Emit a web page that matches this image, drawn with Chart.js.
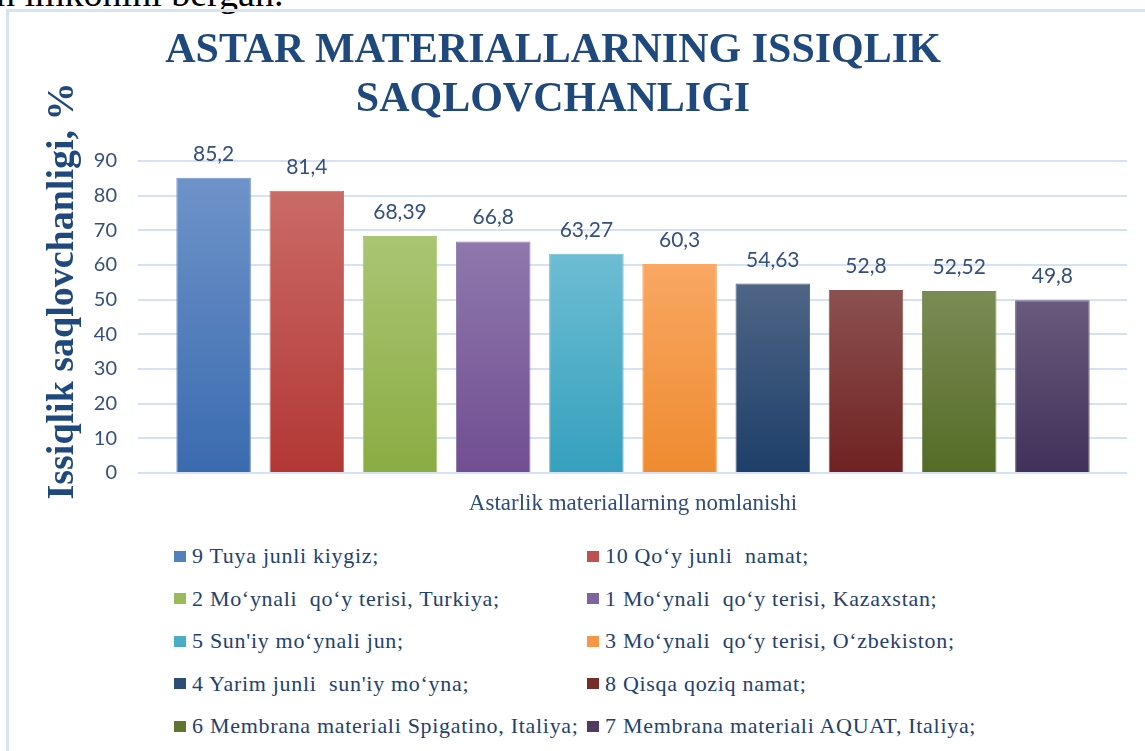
<!DOCTYPE html>
<html>
<head>
<meta charset="utf-8">
<title>Astar materiallarning issiqlik saqlovchanligi</title>
<script src="https://cdn.jsdelivr.net/npm/chart.js@4.4.1/dist/chart.umd.min.js"></script>
<style>
    body {
        margin: 0;
        width: 1145px;
        height: 751px;
        overflow: hidden;
        background: #fff;
        position: relative;
    }
    #pageText {
        position: absolute;
        left: -4px;
        top: -26px;
        font: 38px/38px "Liberation Serif", serif;
        color: #000;
        white-space: nowrap;
    }
    #frame {
        position: absolute;
        left: 6px;
        top: 9px;
        width: 1200px;
        height: 800px;
        border: 3px solid #D6E3F3;
    }
    #chart {
        position: absolute;
        left: -21px;
        top: 0;
    }
    #legend {
        position: absolute;
        left: 174px;
        top: 535px;
        display: grid;
        grid-template-columns: 413px auto;
        grid-auto-rows: 42.5px;
        font: 22px "Liberation Serif", serif;
        letter-spacing: 0.7px;
        color: #23416E;
    }
    #legend .item {
        display: flex;
        align-items: center;
        white-space: pre;
    }
    #legend .box {
        width: 12px;
        height: 11px;
        margin-right: 6px;
        flex: none;
    }
</style>
</head>
<body>
<div id="pageText">n imkonini bergan.</div>
<div id="frame"></div>
<canvas id="chart" width="1148" height="523"></canvas>
<div id="legend"></div>
<script>
// Data
const materials = [
    '9 Tuya junli kiygiz;',
    '10 Qo‘y junli  namat;',
    '2 Mo‘ynali  qo‘y terisi, Turkiya;',
    '1 Mo‘ynali  qo‘y terisi, Kazaxstan;',
    '5 Sun\'iy mo‘ynali jun;',
    '3 Mo‘ynali  qo‘y terisi, O‘zbekiston;',
    '4 Yarim junli  sun\'iy mo‘yna;',
    '8 Qisqa qoziq namat;',
    '6 Membrana materiali Spigatino, Italiya;',
    '7 Membrana materiali AQUAT, Italiya;'
];
const warmth = [85.2, 81.4, 68.39, 66.8, 63.27, 60.3, 54.63, 52.8, 52.52, 49.8];
const yTickValues = [0, 10, 20, 30, 40, 50, 60, 70, 80, 90];

const chartTitle = ['ASTAR MATERIALLARNING ISSIQLIK', 'SAQLOVCHANLIGI'];
const yTitle = 'Issiqlik saqlovchanligi, %';
const xTitle = 'Astarlik materiallarning nomlanishi';

// Excel-like colours: legend swatch, gradient top and bottom
const swatchColors = ['#4F81BD', '#C0504D', '#9BBB59', '#8064A2', '#4BACC6', '#F79646', '#2C4D75', '#772C2A', '#5F7530', '#4D3B62'];
const topColors = ['#6E93C9', '#CA6B68', '#AAC573', '#8F78AC', '#6DBDD3', '#F9A763', '#4E6586', '#8B5150', '#7A8C55', '#685B7C'];
const bottomColors = ['#3A6BAF', '#B23734', '#8AAC43', '#714E92', '#35A0BD', '#EE8B2F', '#1E3F69', '#6F2221', '#546C26', '#41305A'];

const gridColor = '#D6E2F3';
const darkBlue = '#1F497D';
const tickBlue = '#34507E';

Chart.defaults.font.family = 'Lato';

function barGradient(context) {
    const chart = context.chart;
    const i = context.dataIndex;
    const yScale = chart.scales.y;
    if (!chart.chartArea || !yScale || i === undefined) {
        return swatchColors[i] || swatchColors[0];
    }
    const value = context.parsed ? context.parsed.y : warmth[i];
    const top = yScale.getPixelForValue(value);
    const bottom = yScale.getPixelForValue(0);
    const g = chart.ctx.createLinearGradient(0, top, 0, bottom);
    g.addColorStop(0, topColors[i]);
    g.addColorStop(1, bottomColors[i]);
    return g;
}

// value labels above the bars (decimal comma like the original)
const valueLabels = {
    id: 'valueLabels',
    afterDatasetsDraw(chart) {
        const ctx = chart.ctx;
        const meta = chart.getDatasetMeta(0);
        ctx.save();
        ctx.font = '21px Lato';
        ctx.fillStyle = tickBlue;
        ctx.textAlign = 'center';
        ctx.textBaseline = 'alphabetic';
        meta.data.forEach((bar, i) => {
            ctx.fillText(String(warmth[i]).replace('.', ','), bar.x, bar.y - 17);
        });
        ctx.restore();
    }
};

// rotated y axis title, sits a bit higher than the axis centre
const sideTitle = {
    id: 'sideTitle',
    afterDraw(chart) {
        const { ctx, chartArea } = chart;
        ctx.save();
        ctx.translate(chartArea.left - 104, (chartArea.top + chartArea.bottom) / 2 - 26);
        ctx.rotate(-Math.PI / 2);
        ctx.font = 'bold 38px "Liberation Serif"';
        ctx.fillStyle = darkBlue;
        ctx.textAlign = 'center';
        ctx.textBaseline = 'middle';
        ctx.fillText(yTitle, 0, 0);
        ctx.restore();
    }
};

const chart = new Chart(document.getElementById('chart').getContext('2d'), {
    type: 'bar',
    data: {
        labels: materials,
        datasets: [{
            data: warmth,
            backgroundColor: barGradient,
            borderColor: topColors,
            borderWidth: 1,
            categoryPercentage: 1,
            barPercentage: 0.8
        }]
    },
    options: {
        responsive: false,
        animation: false,
        layout: { padding: 0 },
        plugins: {
            legend: { display: false },
            tooltip: { enabled: false },
            title: {
                display: true,
                text: chartTitle,
                color: darkBlue,
                font: { family: 'Liberation Serif', size: 42, weight: 'bold', lineHeight: 49 / 42 },
                padding: { top: 27, bottom: 36 }
            }
        },
        scales: {
            x: {
                grid: { display: false },
                border: { display: false },
                ticks: { display: false },
                title: {
                    display: true,
                    text: xTitle,
                    color: '#2E4C7B',
                    font: { family: 'Liberation Serif', size: 23 },
                    padding: { top: 0, bottom: 5 }
                },
                afterFit: (scale) => { scale.height = 50; }
            },
            y: {
                min: yTickValues[0],
                max: yTickValues[yTickValues.length - 1],
                ticks: {
                    stepSize: yTickValues[1] - yTickValues[0],
                    color: tickBlue,
                    font: { size: 20 },
                    padding: 21
                },
                grid: { color: gridColor, lineWidth: 2, tickLength: 29 },
                border: { display: false },
                afterFit: (scale) => { scale.width = 188; }
            },
            yRight: {
                position: 'right',
                min: yTickValues[0],
                max: yTickValues[yTickValues.length - 1],
                ticks: { display: false, stepSize: yTickValues[1] - yTickValues[0] },
                grid: { color: gridColor, lineWidth: 2, drawOnChartArea: false, tickLength: 28 },
                border: { display: false },
                afterFit: (scale) => { scale.width = 28; }
            }
        }
    },
    plugins: [valueLabels, sideTitle]
});

// two column legend under the chart
const legendEl = document.getElementById('legend');
materials.forEach((name, i) => {
    const item = document.createElement('div');
    item.className = 'item';
    const box = document.createElement('span');
    box.className = 'box';
    box.style.background = swatchColors[i];
    item.appendChild(box);
    item.appendChild(document.createTextNode(name));
    legendEl.appendChild(item);
});
</script>
</body>
</html>
